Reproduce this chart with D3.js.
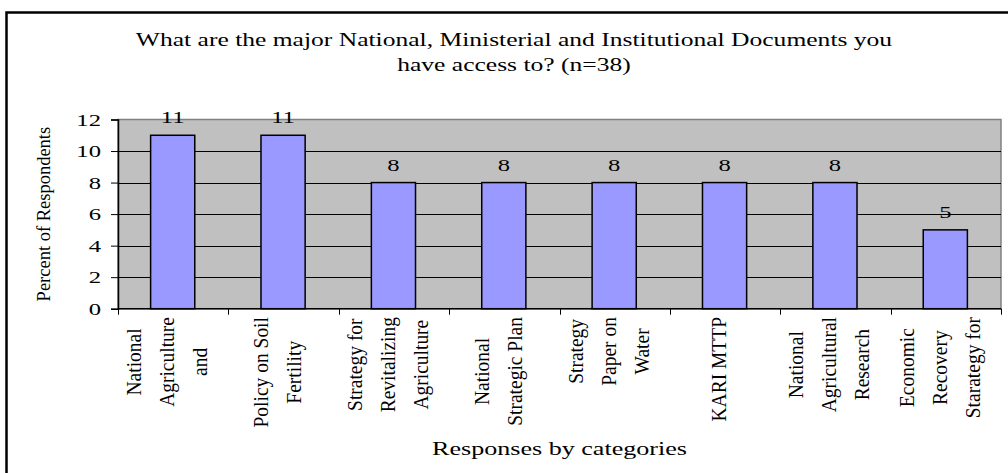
<!DOCTYPE html>
<html>
<head>
<meta charset="utf-8">
<script src="https://cdn.jsdelivr.net/npm/d3@7"></script>
<style>
  html, body { margin: 0; padding: 0; background: #ffffff; }
  svg { display: block; }
  text { font-family: "Liberation Serif", "Times New Roman", serif; fill: #000; }
</style>
</head>
<body>
<svg id="chart" width="1008" height="473"></svg>
<script>
// Document categories (each entry holds the wrapped lines of its label)
const categories = [
  ["National", "Agriculture", "and"],
  ["Policy on Soil", "Fertility"],
  ["Strategy for", "Revitalizing", "Agriculture"],
  ["National", "Strategic Plan"],
  ["Strategy", "Paper on", "Water"],
  ["KARI MTTP"],
  ["National", "Agricultural", "Research"],
  ["Economic", "Recovery", "Starategy for"]
];
// Percent of respondents per category
const values = [11, 11, 8, 8, 8, 8, 8, 5];
// Y-axis ticks
const yTicks = [0, 2, 4, 6, 8, 10, 12];

const titleLines = [
  "What are the major National, Ministerial and Institutional Documents you",
  "have access to? (n=38)"
];
const yTitle = "Percent of Respondents";
const xTitle = "Responses by categories";

const svg = d3.select("#chart");
const plot = { left: 118, right: 1001, top: 119.5, bottom: 308.7 };
const sx = 1.45; // horizontal stretch of the lettering

// outer frame
svg.append("rect")
  .attr("x", 6.5).attr("y", 12.5)
  .attr("width", 1040).attr("height", 500)
  .attr("fill", "#fff").attr("stroke", "#000").attr("stroke-width", 2.5);

const x = d3.scaleBand()
  .domain(d3.range(categories.length))
  .range([plot.left, plot.right])
  .padding(0);

const y = d3.scaleLinear()
  .domain([0, 12])
  .range([plot.bottom, plot.top]);

// plot area background
svg.append("rect")
  .attr("x", plot.left).attr("y", plot.top)
  .attr("width", plot.right - plot.left).attr("height", plot.bottom - plot.top)
  .attr("fill", "#c0c0c0").attr("stroke", "#808080").attr("stroke-width", 1.5);

// gridlines
svg.append("g")
  .selectAll("line")
  .data(yTicks.filter(t => t > 0 && t < 12))
  .join("line")
  .attr("x1", plot.left).attr("x2", plot.right)
  .attr("y1", d => Math.round(y(d)) + 0.5).attr("y2", d => Math.round(y(d)) + 0.5)
  .attr("stroke", "#000").attr("stroke-width", 1);

// bars
const barW = x.bandwidth() * 0.4;
svg.append("g")
  .selectAll("rect")
  .data(values)
  .join("rect")
  .attr("x", (d, i) => x(i) + (x.bandwidth() - barW) / 2 - 0.5)
  .attr("y", d => y(d))
  .attr("width", barW)
  .attr("height", d => y(0) - y(d))
  .attr("fill", "#9999ff")
  .attr("stroke", "#000")
  .attr("stroke-width", 1.5);

// value labels
svg.append("g")
  .selectAll("text")
  .data(values)
  .join("text")
  .attr("transform", (d, i) => `translate(${x(i) + x.bandwidth() / 2 - 0.5},${y(d) - 12}) scale(${sx},1)`)
  .attr("text-anchor", "middle")
  .attr("font-size", 17)
  .text(d => d);

// y axis
const yAxis = svg.append("g")
  .attr("transform", `translate(${plot.left},0)`)
  .call(d3.axisLeft(y).tickValues(yTicks).tickSize(7).tickPadding(10).tickFormat(d3.format("d")));
yAxis.select(".domain").attr("stroke", "#000").attr("stroke-width", 1.5);
yAxis.selectAll(".tick line").attr("stroke", "#000");
yAxis.selectAll(".tick text")
  .attr("font-family", "Liberation Serif")
  .attr("font-size", 17)
  .attr("fill", "#000")
  .attr("dy", "0.34em")
  .attr("transform", function() {
    const xx = +d3.select(this).attr("x");
    return `translate(${xx},0) scale(${sx},1) translate(${-xx},0)`;
  });

// x axis with ticks at category boundaries
const xAxis = svg.append("g")
  .attr("transform", `translate(0,${plot.bottom})`);
xAxis.append("line")
  .attr("x1", plot.left).attr("x2", plot.right)
  .attr("stroke", "#000").attr("stroke-width", 1.5);
const bounds = d3.range(categories.length + 1).map(i => i < categories.length ? x(i) : plot.right);
xAxis.selectAll("line.tk")
  .data(bounds)
  .join("line")
  .attr("class", "tk")
  .attr("x1", d => Math.round(d) + 0.5).attr("x2", d => Math.round(d) + 0.5)
  .attr("y1", 0).attr("y2", 6)
  .attr("stroke", "#000");

// rotated category labels, lines spread across the band
const lineGap = 33;
const labelTop = 317;
const lblSx = 1.12;
categories.forEach((lines, i) => {
  const cx = x(i) + x.bandwidth() / 2 - 5;
  const g = svg.append("g");
  const texts = lines.map(t => g.append("text")
    .attr("font-size", 19.5)
    .attr("text-anchor", "middle")
    .text(t));
  const maxLen = d3.max(texts, t => t.node().getComputedTextLength());
  const cy = labelTop + maxLen / 2;
  texts.forEach((t, j) => {
    const lx = cx + (j - (lines.length - 1) / 2) * lineGap + 6;
    t.attr("transform", `translate(${lx},${cy}) scale(${lblSx},1) rotate(-90)`);
  });
});

// y axis title
svg.append("text")
  .attr("transform", `translate(50,${(plot.top + plot.bottom) / 2}) scale(1.05,1) rotate(-90)`)
  .attr("text-anchor", "middle")
  .attr("font-size", 18.5)
  .text(yTitle);

// x axis title
svg.append("text")
  .attr("transform", `translate(${(plot.left + plot.right) / 2},455) scale(${sx},1)`)
  .attr("text-anchor", "middle")
  .attr("font-size", 18)
  .text(xTitle);

// chart title
svg.append("g")
  .selectAll("text")
  .data(titleLines)
  .join("text")
  .attr("transform", (d, i) => `translate(514,${46 + i * 24.5}) scale(1.42,1)`)
  .attr("text-anchor", "middle")
  .attr("font-size", 18)
  .text(d => d);
</script>
</body>
</html>
